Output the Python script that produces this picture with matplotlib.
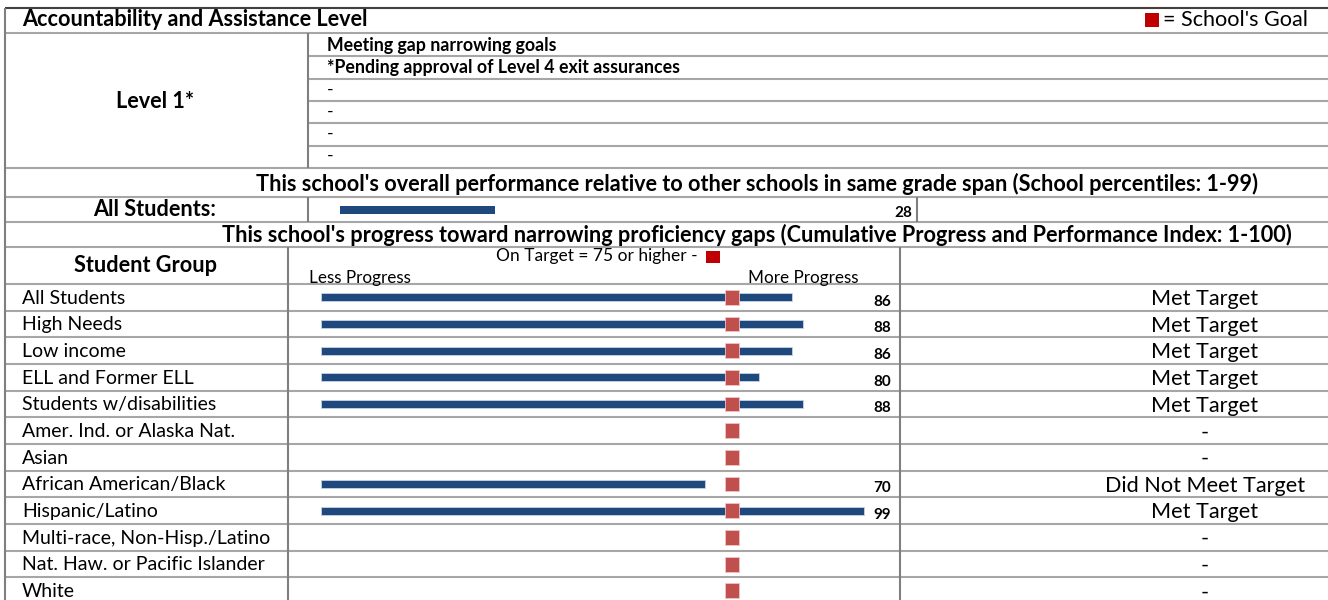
import matplotlib
matplotlib.use("Agg")
import matplotlib.pyplot as plt
from matplotlib.patches import Rectangle

# ---------------- data ----------------
groups = ["All Students", "High Needs", "Low income", "ELL and Former ELL",
          "Students w/disabilities", "Amer. Ind. or Alaska Nat.", "Asian",
          "African American/Black", "Hispanic/Latino",
          "Multi-race, Non-Hisp./Latino", "Nat. Haw. or Pacific Islander", "White"]
cppi = [86, 88, 86, 80, 88, None, None, 70, 99, None, None, None]
status = ["Met Target", "Met Target", "Met Target", "Met Target", "Met Target",
          "-", "-", "Did Not Meet Target", "Met Target", "-", "-", "-"]
goal = 75
percentile_all = 28
level_label = "Level 1*"
level_notes = ["Meeting gap narrowing goals",
               "*Pending approval of Level 4 exit assurances", "-", "-", "-", "-"]

# ---------------- styling ----------------
FONT = "Lato"
plt.rcParams["font.family"] = [FONT, "DejaVu Sans"]
BLUE = "#1F497D"
GOAL = "#C0504D"
LEG = "#C00000"
GRID = "#A6A6A6"
DARK = "#7F7F7F"

W, H = 1328, 600
fig = plt.figure(figsize=(W / 100, H / 100), dpi=100)
ax0 = fig.add_axes([0, 0, 1, 1])
ax0.set_xlim(0, W)
ax0.set_ylim(H, 0)
ax0.axis("off")


def hline(y, x0=5, x1=W, c=GRID, lw=1.5):
    ax0.plot([x0, x1], [y, y], color=c, lw=lw, solid_capstyle="butt", zorder=1)


def vline(x, y0, y1, c=DARK, lw=1.5):
    ax0.plot([x, x], [y0, y1], color=c, lw=lw, solid_capstyle="butt", zorder=1)


def px_axes(x0, x1, y0, y1):
    a = fig.add_axes([x0 / W, 1 - y1 / H, (x1 - x0) / W, (y1 - y0) / H])
    a.axis("off")
    a.patch.set_alpha(0)
    return a


def txt(x, y, s, size, bold=False, ha="left"):
    ax0.text(x, y, s, fontsize=size, fontweight="bold" if bold else "normal",
             ha=ha, va="baseline")


# ---------------- table grid ----------------
hline(8, c="#404040", lw=1.5)
hline(33)
for y in [56, 79, 101, 123, 146]:
    hline(y, x0=308)
for y in [168, 197, 222, 247, 284]:
    hline(y)
row_top = 284
row_h = 26.67
for i in range(1, len(groups)):
    hline(row_top + i * row_h)
vline(5, 8, H)
vline(308, 33, 168)
vline(308, 197, 222)
vline(917, 197, 222)
vline(288, 247, H)
vline(900, 247, H)

# ---------------- top section text ----------------
TB = 15.6
txt(22, 26.5, "Accountability and Assistance Level", TB, bold=True)
ax0.add_patch(Rectangle((1145, 13), 14, 14, color=LEG, lw=0))
txt(1163, 26.5, "= School's Goal", TB)
txt(155, 108, level_label, TB, bold=True, ha="center")
note_base = [51.5, 73.5, 95, 117, 139, 161]
for t, y in zip(level_notes, note_base):
    txt(327, y, t, 12.8, bold=(t != "-"))

txt(757, 191, "This school's overall performance relative to other schools in same grade span "
    "(School percentiles: 1-99)", TB, bold=True, ha="center")
txt(155, 216, "All Students:", TB, bold=True, ha="center")
txt(912, 217, str(percentile_all), 11, bold=True, ha="right")
txt(757, 241.5, "This school's progress toward narrowing proficiency gaps "
    "(Cumulative Progress and Performance Index: 1-100)", TB, bold=True, ha="center")

# percentile bar
axa = px_axes(340, 894, 197, 222)
axa.set_xlim(0, 100)
axa.set_ylim(0.5, -0.5)
axa.barh([0], [percentile_all], height=0.32, color=BLUE, lw=0)

# ---------------- progress section header ----------------
txt(146, 272.5, "Student Group", TB, bold=True, ha="center")
txt(597, 260.5, "On Target = 75 or higher -", 12.5, ha="center")
ax0.add_patch(Rectangle((706, 251), 14, 12, color=LEG, lw=0))
txt(309, 283, "Less Progress", 12.3)
txt(858, 283, "More Progress", 12.3, ha="right")

# ---------------- progress rows ----------------
n = len(groups)
axp = px_axes(321, 869, row_top, H)
axp.set_xlim(0, 100)
axp.set_ylim((H - row_top) / row_h - 0.5, -0.5)
rows = list(range(n))
have = [i for i in rows if cppi[i] is not None]
axp.barh(have, [cppi[i] for i in have], height=0.3, color=BLUE, lw=0.6,
         edgecolor="#C5D3E8", zorder=2)
axp.barh(rows, [2.6] * n, left=goal - 1.3, height=0.56, color=GOAL,
         edgecolor="#F2C4C3", lw=0.6, zorder=3)

for i, g in enumerate(groups):
    top = row_top + i * row_h
    txt(22, top + 19.5, g, 14)
    txt(1205, top + 21, status[i], TB, ha="center")
    if cppi[i] is not None:
        txt(891, top + 21.5, str(cppi[i]), 11, bold=True, ha="right")

fig.savefig("out.png", dpi=100)
